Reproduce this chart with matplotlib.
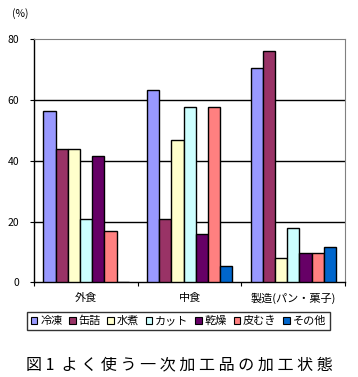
import numpy as np
import matplotlib.pyplot as plt
from matplotlib.patches import Patch

plt.rcParams['font.family'] = ['Noto Sans CJK JP', 'DejaVu Sans']

# データ
categories = ['外食', '中食', '製造(パン・菓子)']
series_names = ['冷凍', '缶詰', '水煮', 'カット', '乾燥', '皮むき', 'その他']
values = {
    '冷凍': [56.3, 63.3, 70.4],
    '缶詰': [43.8, 21.0, 76.3],
    '水煮': [43.8, 47.0, 7.9],
    'カット': [20.7, 57.8, 17.8],
    '乾燥': [41.5, 15.8, 9.7],
    '皮むき': [16.9, 57.8, 9.7],
    'その他': [0, 5.3, 11.5],
}
colors = ['#9999FF', '#993366', '#FFFFCC', '#CCFFFF', '#660066', '#FF8080', '#0066CC']
yticks = [0, 20, 40, 60, 80]

fig = plt.figure(figsize=(3.58, 3.77), dpi=100)
ax = fig.add_axes([0.0958, 0.2512, 0.868, 0.6446])

n = len(series_names)
w = 1 / (n + 1.5)
x = np.arange(len(categories))
for i, name in enumerate(series_names):
    offs = (i - (n - 1) / 2) * w
    ax.bar(x + offs, values[name], width=w, color=colors[i],
           edgecolor='black', linewidth=1.0, zorder=3)

ax.set_xlim(-0.5, len(categories) - 0.5)
ax.set_ylim(0, 80)
ax.set_yticks(yticks)
ax.set_yticklabels([str(v) for v in yticks], fontsize=7.5)
for v in yticks[1:-1]:
    ax.axhline(v, color='black', linewidth=1.0, zorder=1)

# カテゴリ境界の目盛り
ax.set_xticks(np.arange(len(categories) + 1) - 0.5)
ax.set_xticklabels([])
ax.tick_params(axis='x', length=3, width=0.8, direction='out')
ax.tick_params(axis='y', length=3, width=0.8, direction='out', pad=8)
for xi, c in zip(x, categories):
    ax.text(xi, -3.6, c, ha='center', va='top', fontsize=8)

ax.spines['left'].set_linewidth(1.0)
ax.spines['bottom'].set_linewidth(1.0)
ax.spines['top'].set_color('#808080')
ax.spines['right'].set_color('#808080')

fig.text(0.033, 0.965, '(%)', fontsize=7.5, ha='left', va='center')

handles = [Patch(facecolor=c, edgecolor='black', linewidth=0.8, label=s)
           for c, s in zip(colors, series_names)]
leg = fig.legend(handles=handles, loc='center', bbox_to_anchor=(0.498, 0.149),
                 ncol=7, fontsize=8, frameon=True, fancybox=False,
                 handlelength=0.6, handleheight=0.6, handletextpad=0.25,
                 columnspacing=0.6, borderpad=0.35, borderaxespad=0)
leg.get_frame().set_edgecolor('black')
leg.get_frame().set_linewidth(1.0)

fig.text(0.5, 0.032, '図 1  よ く 使 う 一 次 加 工 品 の 加 工 状 態',
         ha='center', va='center', fontsize=11.5)

fig.savefig('out.png', dpi=100)
